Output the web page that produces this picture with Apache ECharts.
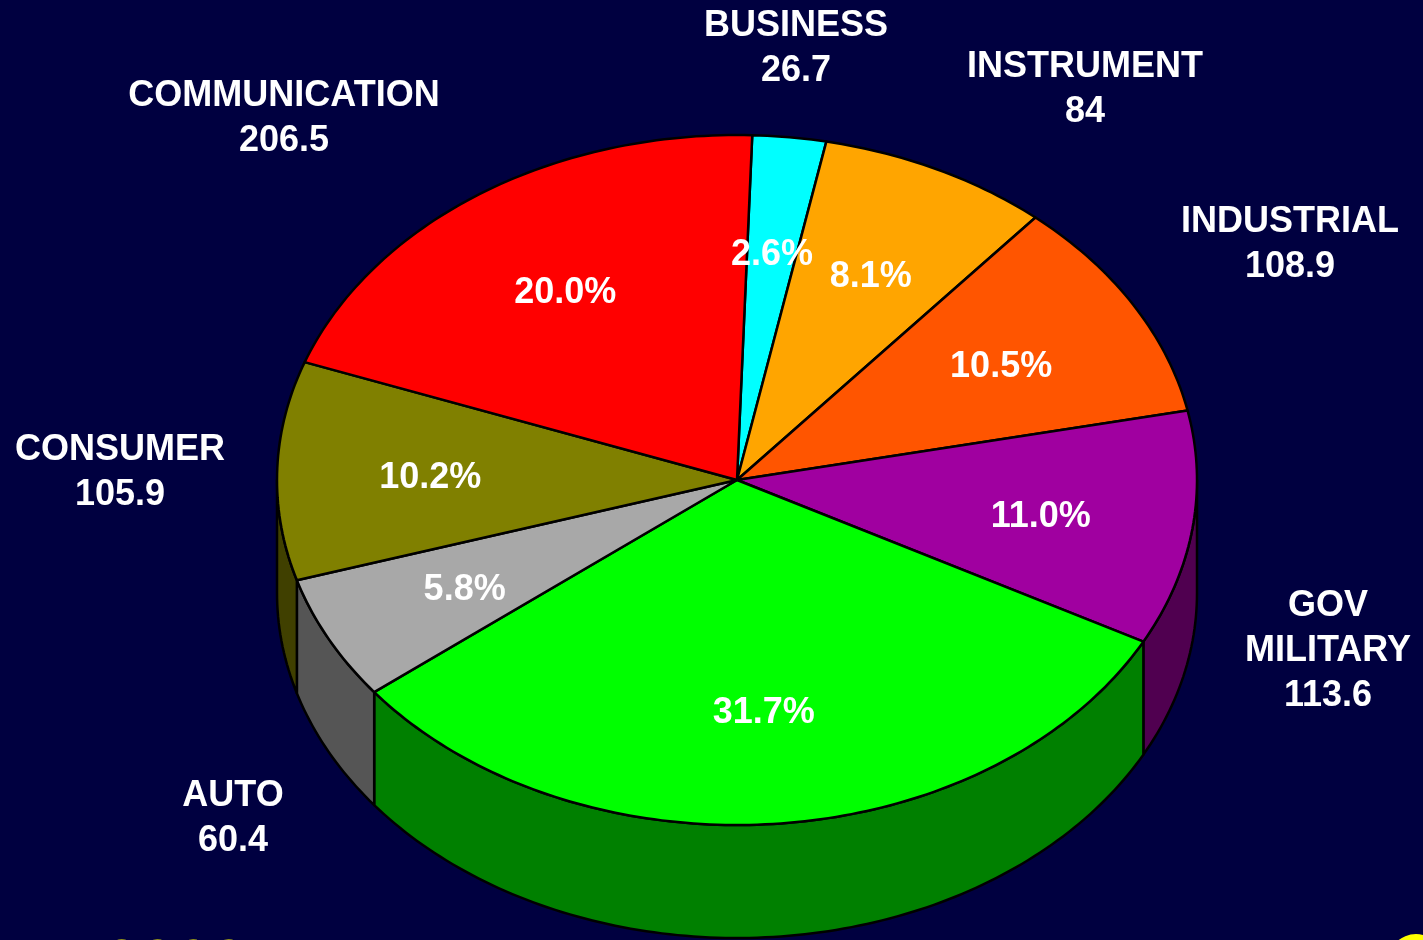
<!DOCTYPE html>
<html>
<head>
<meta charset="utf-8">
<script src="https://cdn.jsdelivr.net/npm/echarts@6/dist/echarts.min.js"></script>
<style>
  html, body { margin: 0; padding: 0; background: #000040; }
  #market { width: 1423px; height: 940px; }
</style>
</head>
<body>
<div id="market"></div>
<script>
// data, clockwise from the top of the pie
var names  = ['BUSINESS', 'INSTRUMENT', 'INDUSTRIAL', 'GOV\nMILITARY', 'COMPUTER', 'AUTO', 'CONSUMER', 'COMMUNICATION'];
var values = [26.7, 84, 108.9, 113.6, 327.7, 60.4, 105.9, 206.5];
var topColors  = ['#00FFFF', '#FFA500', '#FF5500', '#A000A0', '#00FF00', '#A8A8A8', '#808000', '#FF0000'];
var sideColors = ['#008080', '#805300', '#802b00', '#500050', '#008000', '#555555', '#404000', '#800000'];
// where the outer name/value labels sit (block centre); null = not shown
var labelAt = [[796, 49], [1085, 90], [1290, 245], [1328, 651], null, [233, 819], [120, 473], [284, 119]];

// pie geometry
var cx = 737, cy = 480, rx = 460, ry = 345, depth = 113, startDeg = 1.9;
var FONT = 'bold 36px "Liberation Sans", Arial, sans-serif';

var total = 0;
for (var i = 0; i < values.length; i++) total += values[i];
var angles = [];
var acc = startDeg * Math.PI / 180;
for (var i = 0; i < values.length; i++) {
    var span = values[i] / total * Math.PI * 2;
    angles.push([acc, acc + span]);
    acc += span;
}

function pt(t, dy, f) {
    f = f || 1;
    return [cx + f * rx * Math.sin(t), cy - f * ry * Math.cos(t) + (dy || 0)];
}
function arc(a, b, dy) {
    var pts = [];
    var n = Math.max(2, Math.ceil((b - a) / (Math.PI / 180)));
    for (var k = 0; k <= n; k++) pts.push(pt(a + (b - a) * k / n, dy));
    return pts;
}

function renderSlice(params, api) {
    var i = params.dataIndex;
    var a0 = angles[i][0], a1 = angles[i][1];
    var children = [];

    // side wall (front half only)
    var lo = Math.max(a0, Math.PI / 2), hi = Math.min(a1, Math.PI * 1.5);
    if (lo < hi) {
        var wall = arc(lo, hi, 0).concat(arc(lo, hi, depth).reverse());
        children.push({
            type: 'polygon',
            shape: { points: wall },
            style: { fill: sideColors[i], stroke: '#000', lineWidth: 2.5, lineJoin: 'round' }
        });
    }

    // top face
    var top = [[cx, cy]].concat(arc(a0, a1, 0));
    children.push({
        type: 'polygon',
        shape: { points: top },
        style: { fill: topColors[i], stroke: '#000', lineWidth: 2.5, lineJoin: 'round' }
    });

    // percentage inside
    var mid = (a0 + a1) / 2;
    var p = pt(mid, 4, 0.667);
    children.push({
        type: 'text', x: p[0], y: p[1], z2: 20,
        style: {
            text: (values[i] / total * 100).toFixed(1) + '%',
            fill: '#fff', font: FONT, align: 'center', verticalAlign: 'middle'
        }
    });

    // name + value outside
    if (labelAt[i]) {
        children.push({
            type: 'text', x: labelAt[i][0], y: labelAt[i][1], z2: 20,
            style: {
                text: names[i] + '\n' + values[i],
                fill: '#fff', font: FONT, align: 'center', verticalAlign: 'middle', lineHeight: 45
            }
        });
    }
    return { type: 'group', children: children };
}

var myChart = echarts.init(document.getElementById('market'));
var option = {
    backgroundColor: '#000040',
    animation: false,
    graphic: [
        { type: 'text', left: 104, top: 935,
          style: { text: '2000', fill: '#FFFF00', font: 'bold 64px "Liberation Sans", Arial, sans-serif' } },
        { type: 'circle', shape: { cx: 1416, cy: 962, r: 28 }, style: { fill: '#FFFF00' } }
    ],
    series: [{
        type: 'custom',
        coordinateSystem: 'none',
        renderItem: renderSlice,
        data: values.map(function (v, i) { return [i, v]; })
    }]
};
myChart.setOption(option);
</script>
</body>
</html>
